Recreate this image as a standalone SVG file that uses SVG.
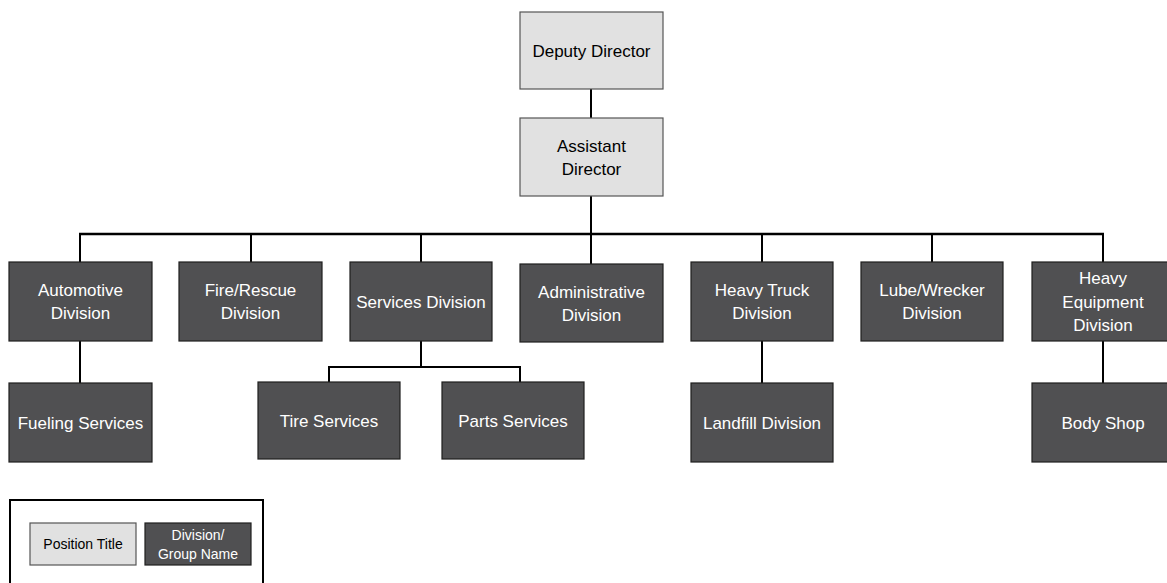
<svg xmlns="http://www.w3.org/2000/svg" width="1167" height="583" viewBox="0 0 1167 583">
<style>
.pos{fill:#e1e1e1;stroke:#555;stroke-width:1.2}
.div{fill:#505052;stroke:#1e1e1e;stroke-width:1.2}
.tl{font-family:"Liberation Sans",Arial,sans-serif;font-size:17px;fill:#000;text-anchor:middle}
.td{font-family:"Liberation Sans",Arial,sans-serif;font-size:17px;fill:#fff;text-anchor:middle}
.sl{font-family:"Liberation Sans",Arial,sans-serif;font-size:14px;fill:#000;text-anchor:middle}
.sd{font-family:"Liberation Sans",Arial,sans-serif;font-size:14px;fill:#fff;text-anchor:middle}
.c{stroke:#000;stroke-width:2;fill:none}
.bus{stroke:#000;stroke-width:2.6;fill:none}
</style>
<rect width="1167" height="583" fill="#fff"/>
<g id="connectors">
<line class="c" x1="591" y1="89" x2="591" y2="118"/>
<line class="c" x1="591" y1="196" x2="591" y2="264"/>
<line class="bus" x1="79" y1="234" x2="1104" y2="234"/>
<line class="c" x1="80" y1="234" x2="80" y2="262"/>
<line class="c" x1="251" y1="234" x2="251" y2="262"/>
<line class="c" x1="421" y1="234" x2="421" y2="262"/>
<line class="c" x1="762" y1="234" x2="762" y2="262"/>
<line class="c" x1="932" y1="234" x2="932" y2="262"/>
<line class="c" x1="1103" y1="234" x2="1103" y2="262"/>
<line class="c" x1="80" y1="341" x2="80" y2="383"/>
<line class="c" x1="421" y1="341" x2="421" y2="367"/>
<polyline class="c" points="329,382 329,367 520,367 520,382"/>
<line class="c" x1="762" y1="341" x2="762" y2="383"/>
<line class="c" x1="1103" y1="341" x2="1103" y2="383"/>
</g>
<g id="deputy-director">
<rect class="pos" x="520" y="12" width="143" height="77"/>
<text class="tl" x="591.5" y="56.5">Deputy Director</text>
</g>
<g id="assistant-director">
<rect class="pos" x="520" y="118" width="143" height="78"/>
<text class="tl" x="591.5" y="152">Assistant</text>
<text class="tl" x="591.5" y="175">Director</text>
</g>
<g id="automotive">
<rect class="div" x="9" y="262" width="143" height="79"/>
<text class="td" x="80.5" y="296">Automotive</text>
<text class="td" x="80.5" y="319">Division</text>
</g>
<g id="fire-rescue">
<rect class="div" x="179" y="262" width="143" height="79"/>
<text class="td" x="250.5" y="296">Fire/Rescue</text>
<text class="td" x="250.5" y="319">Division</text>
</g>
<g id="services">
<rect class="div" x="350" y="262" width="142" height="79"/>
<text class="td" x="421" y="307.5">Services Division</text>
</g>
<g id="administrative">
<rect class="div" x="520" y="264" width="143" height="78"/>
<text class="td" x="591.5" y="297.5">Administrative</text>
<text class="td" x="591.5" y="320.5">Division</text>
</g>
<g id="heavy-truck">
<rect class="div" x="691" y="262" width="142" height="79"/>
<text class="td" x="762" y="296">Heavy Truck</text>
<text class="td" x="762" y="319">Division</text>
</g>
<g id="lube-wrecker">
<rect class="div" x="861" y="262" width="142" height="79"/>
<text class="td" x="932" y="296">Lube/Wrecker</text>
<text class="td" x="932" y="319">Division</text>
</g>
<g id="heavy-equipment">
<rect class="div" x="1032" y="262" width="143" height="79"/>
<text class="td" x="1103" y="284">Heavy</text>
<text class="td" x="1103" y="307.5">Equipment</text>
<text class="td" x="1103" y="331">Division</text>
</g>
<g id="fueling">
<rect class="div" x="9" y="383" width="143" height="79"/>
<text class="td" x="80.5" y="428.5">Fueling Services</text>
</g>
<g id="tire">
<rect class="div" x="258" y="382" width="142" height="77"/>
<text class="td" x="329" y="426.5">Tire Services</text>
</g>
<g id="parts">
<rect class="div" x="442" y="382" width="142" height="77"/>
<text class="td" x="513" y="426.5">Parts Services</text>
</g>
<g id="landfill">
<rect class="div" x="691" y="383" width="142" height="79"/>
<text class="td" x="762" y="428.5">Landfill Division</text>
</g>
<g id="body-shop">
<rect class="div" x="1032" y="383" width="143" height="79"/>
<text class="td" x="1103" y="428.5">Body Shop</text>
</g>
<g id="legend">
<rect x="10" y="500" width="253" height="95" fill="none" stroke="#000" stroke-width="2"/>
<rect class="pos" x="30" y="523" width="106" height="42"/>
<text class="sl" x="83" y="549">Position Title</text>
<rect class="div" x="145" y="523" width="106" height="42"/>
<text class="sd" x="198" y="540">Division/</text>
<text class="sd" x="198" y="559">Group Name</text>
</g>
</svg>
